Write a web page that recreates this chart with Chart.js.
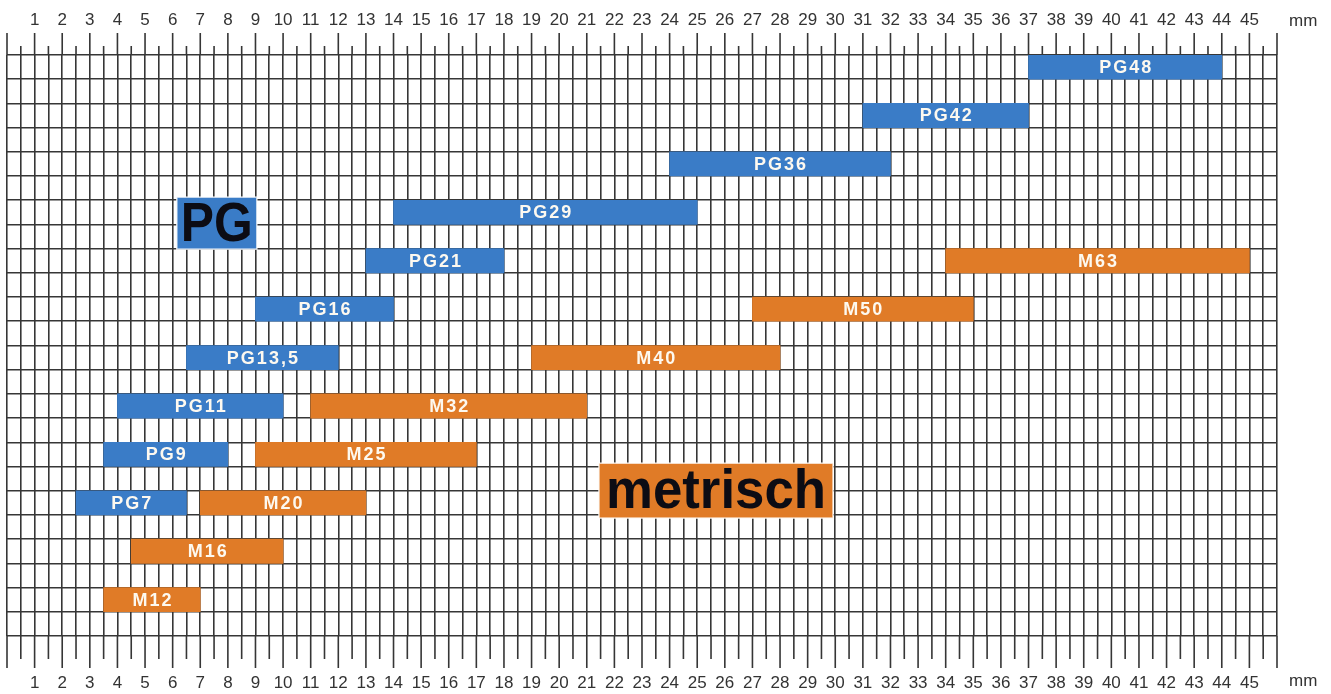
<!DOCTYPE html>
<html>
<head>
<meta charset="utf-8">
<script src="https://cdn.jsdelivr.net/npm/chart.js@4"></script>
<style>
    html, body { margin: 0; padding: 0; background: #ffffff; }
    #wrap { position: relative; width: 1331px; height: 694px; }
</style>
</head>
<body>
<div id="wrap"><canvas id="gland"></canvas></div>
<script>
// Rows of the chart, top to bottom
const rows = ["r0", "r1", "r2", "r3", "r4", "r5", "r6", "r7", "r8", "r9", "r10", "r11",
    "r12", "r13", "r14", "r15", "r16", "r17", "r18", "r19", "r20", "r21", "r22", "r23"];

// PG threads: clamping range in mm
const pgNames = ["PG7", "PG9", "PG11", "PG13,5", "PG16", "PG21", "PG29", "PG36", "PG42", "PG48"];
const pgFrom = [2.5, 3.5, 4, 6.5, 9, 13, 14, 24, 31, 37];
const pgTo = [6.5, 8, 10, 12, 14, 18, 25, 32, 37, 44];
const pgRow = [18, 16, 14, 12, 10, 8, 6, 4, 2, 0];

// metric threads: clamping range in mm
const mNames = ["M12", "M16", "M20", "M25", "M32", "M40", "M50", "M63"];
const mFrom = [3.5, 4.5, 7, 9, 11, 19, 27, 34];
const mTo = [7, 10, 13, 17, 21, 28, 35, 45];
const mRow = [22, 20, 18, 16, 14, 12, 10, 8];

// mm scale
const mmMin = 0;
const mmMax = 46;
const mmStep = 0.5;

const BLUE = "#3a7cc7";
const ORANGE = "#e07b27";
const LINE = "#363636";
const FONT = "'Liberation Sans', Arial, sans-serif";

const toPoints = (names, from, to, row) => names.map((n, i) => ({ y: rows[row[i]], x: [from[i], to[i]], name: n }));
const mmLabel = (v) => (Number.isInteger(v) && v >= 1 && v <= 45 ? String(v) : "");

// tall ticks on whole mm, short ones on half mm, outside the grid
const rulerTicks = {
    id: "rulerTicks",
    afterDraw(chart) {
        const { ctx, chartArea, scales } = chart;
        ctx.save();
        ctx.strokeStyle = LINE;
        ctx.lineWidth = 1.6;
        scales.x.ticks.forEach((t) => {
            const px = scales.x.getPixelForValue(t.value);
            const whole = Number.isInteger(t.value);
            ctx.beginPath();
            ctx.moveTo(px, chartArea.top - (whole ? 22 : 9));
            ctx.lineTo(px, chartArea.top);
            ctx.moveTo(px, chartArea.bottom);
            ctx.lineTo(px, chartArea.bottom + (whole ? 32 : 23));
            ctx.stroke();
        });
        ctx.fillStyle = "#333";
        ctx.font = `17px ${FONT}`;
        ctx.textAlign = "left";
        ctx.textBaseline = "middle";
        ctx.fillText("mm", 1289, 21);
        ctx.fillText("mm", 1289, 681);
        ctx.restore();
    }
};

// names inside the bars and the two group captions
const barLabels = {
    id: "barLabels",
    afterDatasetsDraw(chart) {
        const { ctx, scales } = chart;
        ctx.save();
        ctx.textAlign = "center";
        ctx.textBaseline = "middle";

        const box = (x0, x1, r0, r1, fill, text, size, maxW) => {
            const left = scales.x.getPixelForValue(x0);
            const right = scales.x.getPixelForValue(x1);
            const top = scales.y.getPixelForValue(r0 - 0.5);
            const bottom = scales.y.getPixelForValue(r1 - 0.5);
            ctx.fillStyle = fill;
            ctx.fillRect(left, top, right - left, bottom - top);
            ctx.strokeStyle = "rgba(255,255,255,0.8)";
            ctx.lineWidth = 1.5;
            ctx.strokeRect(left, top, right - left, bottom - top);
            ctx.fillStyle = "#0c0c14";
            ctx.font = `bold ${size}px ${FONT}`;
            ctx.fillText(text, (left + right) / 2, (top + bottom) / 2 + 2, maxW);
        };
        box(6.15, 9.05, 5.87, 8.02, BLUE, "PG", 56, 72);
        box(21.44, 29.92, 16.86, 19.13, ORANGE, "metrisch", 56, 220);

        ctx.fillStyle = "#fdf9f0";
        ctx.font = `bold 18px ${FONT}`;
        ctx.letterSpacing = "2px";
        chart.data.datasets.forEach((ds, di) => {
            chart.getDatasetMeta(di).data.forEach((bar, i) => {
                ctx.fillText(ds.data[i].name, (bar.x + bar.base) / 2 + 1, bar.y + 1);
            });
        });
        ctx.restore();
    }
};

new Chart(document.getElementById("gland"), {
    type: "bar",
    data: {
        labels: rows,
        datasets: [
            {
                label: "PG",
                data: toPoints(pgNames, pgFrom, pgTo, pgRow),
                backgroundColor: BLUE
            },
            {
                label: "metrisch",
                data: toPoints(mNames, mFrom, mTo, mRow),
                backgroundColor: ORANGE
            }
        ]
    },
    options: {
        indexAxis: "y",
        responsive: true,
        maintainAspectRatio: false,
        animation: false,
        grouped: false,
        barPercentage: 1,
        categoryPercentage: 1,
        borderWidth: 0,
        layout: { padding: { left: 7, right: 54, top: 0, bottom: 0 } },
        plugins: {
            legend: { display: false },
            tooltip: { enabled: false }
        },
        scales: {
            x: {
                type: "linear",
                position: "top",
                min: mmMin,
                max: mmMax,
                border: { display: false },
                // tick marks are drawn by rulerTicks, tickLength only places the labels
                grid: { color: LINE, lineWidth: 1.6, drawTicks: true, tickLength: 24, tickColor: "transparent" },
                ticks: {
                    stepSize: mmStep,
                    autoSkip: false,
                    maxRotation: 0,
                    padding: 0,
                    color: "#333",
                    font: { family: FONT, size: 17 },
                    callback: mmLabel
                },
                afterFit: (scale) => { scale.height = 55; }
            },
            xBottom: {
                type: "linear",
                position: "bottom",
                min: mmMin,
                max: mmMax,
                border: { display: false },
                grid: { display: false, drawTicks: true, tickLength: 37 },
                ticks: {
                    stepSize: mmStep,
                    autoSkip: false,
                    maxRotation: 0,
                    padding: 0,
                    color: "#333",
                    font: { family: FONT, size: 17 },
                    callback: mmLabel
                },
                afterFit: (scale) => { scale.height = 58; }
            },
            y: {
                type: "category",
                offset: true,
                border: { display: false },
                grid: { offset: true, color: LINE, lineWidth: 1.6, drawTicks: false },
                ticks: { display: false },
                afterFit: (scale) => { scale.width = 0; }
            }
        }
    },
    plugins: [rulerTicks, barLabels]
});
</script>
</body>
</html>
